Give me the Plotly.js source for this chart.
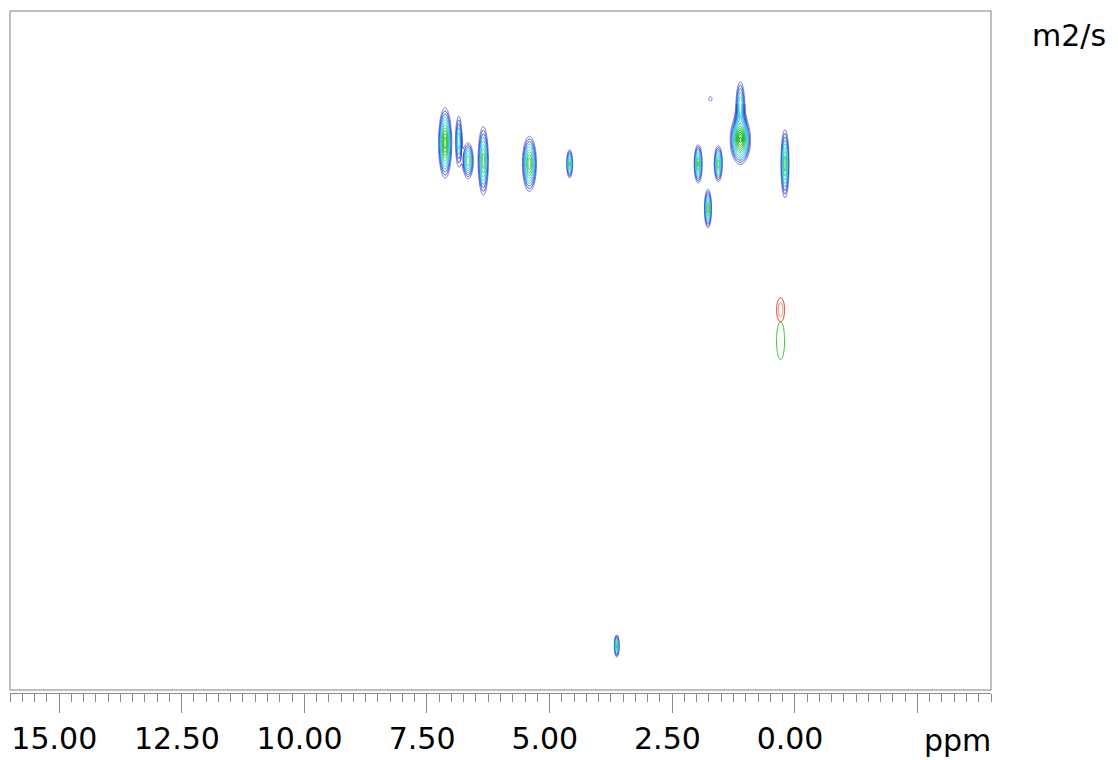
<!DOCTYPE html>
<html><head><meta charset="utf-8">
<script src="https://cdn.plot.ly/plotly-3.0.1.min.js"></script>
<style>html,body{margin:0;padding:0;background:#fff}#chart{width:1118px;height:760px}</style>
</head><body><div id="chart"></div>
<script>
// ---- data: 2D DOSY peak list (chemical shift, log10 D, intensity, half-widths) ----
const peakPpm       = [7.13, 6.85, 6.66, 6.35, 5.41, 4.59, 1.97, 1.56, 1.77, 1.11, 1.11, 1.72, 0.20, 3.63];
const peakLogD      = [-9.689, -9.694, -9.647, -9.647, -9.640, -9.640, -9.640, -9.640, -9.534, -9.696, -9.780, -9.793, -9.640, -8.504];
const peakHeight    = [25, 4, 8, 10, 14, 9, 12, 10, 10, 30, 4, 1.2, 10, 9];
const peakWidthPpm  = [0.066, 0.061, 0.0754, 0.0694, 0.0864, 0.0431, 0.0519, 0.0554, 0.0483, 0.0964, 0.0815, 0.097, 0.0554, 0.036];
const peakWidthLogD = [0.0413, 0.0554, 0.0305, 0.0544, 0.0391, 0.0233, 0.0285, 0.028, 0.0305, 0.0267, 0.052, 0.016, 0.0544, 0.0184];

const redPpm = [0.29], redLogD = [-9.296], redHeight = [1.6], redWidthPpm = [0.158], redWidthLogD = [0.055];
const greenPpm = [0.29], greenLogD = [-9.223], greenHeight = [1.25], greenWidthPpm = [0.237], greenWidthLogD = [0.130];

const xTickVals = [15, 12.5, 10, 7.5, 5, 2.5, 0, -2.5];
const xTickText = ['15.00', '12.50', '10.00', '7.50', '5.00', '2.50', '0.00', ''];

const levelRatio = 1.35;
const levelCount = 12;
const posColors = ['#6a6adc', '#3a3ad0', '#2060d8', '#20b8e4', '#38cce4', '#40d4d0', '#40d090', '#38c860', '#2cc040', '#24bc28', '#20b820', '#18b018'];

function intensity(px, py, P) {
  let s = 0;
  for (let m = 0; m < P.x.length; m++) {
    const dx = (px - P.x[m]) / P.wx[m], dy = (py - P.y[m]) / P.wy[m];
    const q = 1 + dx * dx + dy * dy;
    s += P.h[m] / (q * q);
  }
  return s;
}

function buildTraces(P, nLevels, colors) {
  const step = Math.log(levelRatio);
  const zmax = nLevels > 1 ? step * (nLevels - 1) : 1;
  const cs = colors.length > 1 ? colors.map((c, i) => [i / (colors.length - 1), c]) : [[0, colors[0]], [1, colors[0]]];
  const traces = [];
  for (let k = 0; k < P.x.length; k++) {
    const f = 1.3 * Math.sqrt(Math.max(Math.sqrt(P.h[k]) - 1, 0.05)) + 0.4;
    const hx = P.wx[k] * f, hy = P.wy[k] * f;
    const nx = 70, ny = 100;
    const xs = [], ys = [], z = [];
    for (let i = 0; i < nx; i++) xs.push(P.x[k] - hx + 2 * hx * i / (nx - 1));
    for (let j = 0; j < ny; j++) ys.push(P.y[k] - hy + 2 * hy * j / (ny - 1));
    for (let j = 0; j < ny; j++) {
      const row = [];
      for (let i = 0; i < nx; i++) row.push(Math.log(intensity(xs[i], ys[j], P) + 1e-9));
      z.push(row);
    }
    traces.push({
      type: 'contour', x: xs, y: ys, z: z,
      autocontour: false,
      contours: {start: 0, end: nLevels > 1 ? step * (nLevels - 1) : 0.5, size: nLevels > 1 ? step : 1, coloring: 'lines'},
      line: {width: 1, smoothing: 0.8},
      colorscale: cs, zmin: 0, zmax: zmax, zauto: false,
      showscale: false, hoverinfo: 'skip'
    });
  }
  return traces;
}

const pos = {x: peakPpm, y: peakLogD, h: peakHeight, wx: peakWidthPpm, wy: peakWidthLogD};
const red = {x: redPpm, y: redLogD, h: redHeight, wx: redWidthPpm, wy: redWidthLogD};
const green = {x: greenPpm, y: greenLogD, h: greenHeight, wx: greenWidthPpm, wy: greenWidthLogD};

const data = [].concat(
  buildTraces(pos, levelCount, posColors),
  buildTraces(red, 2, ['#e02818', '#f07a5a']),
  buildTraces(green, 1, ['#20c020'])
);

const yDomLow = 3 / 682;
const layout = {
  width: 1118, height: 760,
  margin: {l: 10, r: 127, t: 11, b: 67, pad: 0},
  paper_bgcolor: '#ffffff', plot_bgcolor: '#ffffff',
  showlegend: false,
  font: {family: 'DejaVu Sans', size: 30, color: '#000'},
  xaxis: {
    range: [16, -4], autorange: false,
    tickmode: 'array', tickvals: xTickVals, ticktext: xTickText.map(t => t ? t + '\u00a0' : t),
    ticks: 'outside', ticklen: 19, tickwidth: 1, tickcolor: '#8a8a8a',
    showline: true, linecolor: '#8a8a8a', linewidth: 1,
    showgrid: false, zeroline: false, anchor: 'free', position: 0,
    tickfont: {family: 'DejaVu Sans', size: 30, color: '#000'},
    minor: {tickmode: 'linear', tick0: 0, dtick: 0.25, ticks: 'outside', ticklen: 8, tickwidth: 1, tickcolor: '#8a8a8a', showgrid: false}
  },
  yaxis: {
    domain: [yDomLow, 1], range: [-8.4, -10.0], autorange: false,
    showticklabels: false, ticks: '', showgrid: false, zeroline: false, showline: false
  },
  shapes: [{type: 'rect', xref: 'paper', yref: 'paper', x0: 0, x1: 1, y0: yDomLow, y1: 1,
            line: {color: '#808080', width: 1}, fillcolor: 'rgba(0,0,0,0)', layer: 'above'}],
  annotations: [
    {text: 'm2/s', xref: 'paper', yref: 'paper', x: (1030 - 10) / 981, y: (693 - 36) / 682,
     xanchor: 'left', yanchor: 'middle', showarrow: false, font: {family: 'DejaVu Sans', size: 30, color: '#000'}},
    {text: 'ppm', xref: 'paper', yref: 'paper', x: 1.002, y: (693 - 740) / 682,
     xanchor: 'right', yanchor: 'middle', showarrow: false, font: {family: 'DejaVu Sans', size: 30, color: '#000'}}
  ]
};

Plotly.newPlot('chart', data, layout, {displayModeBar: false, staticPlot: true});
</script></body></html>
